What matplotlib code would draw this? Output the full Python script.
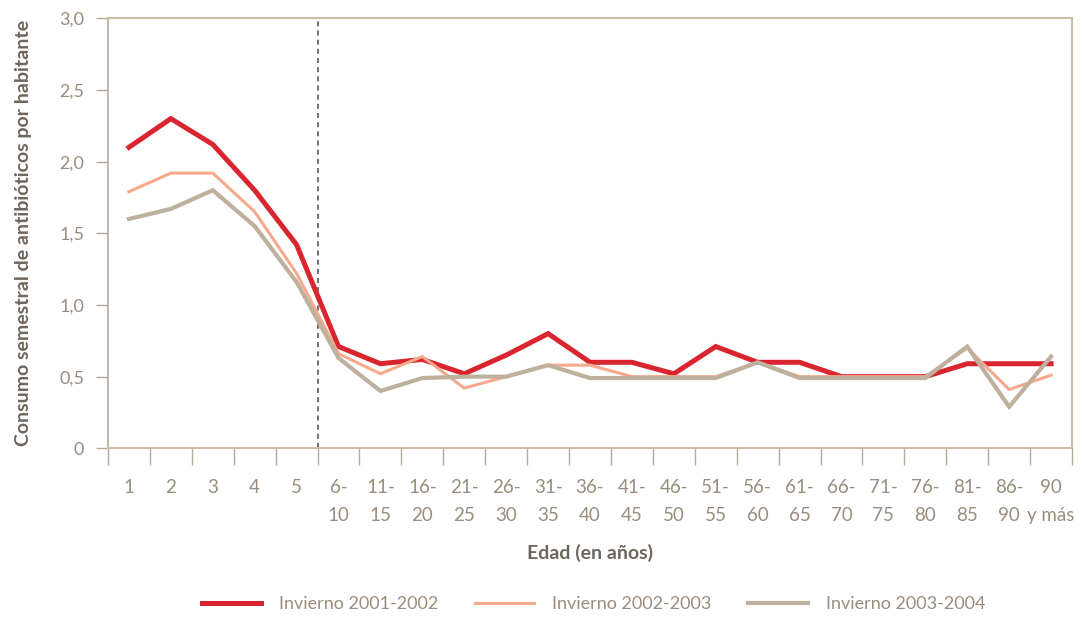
import numpy as np
import matplotlib
matplotlib.use("Agg")
import matplotlib.pyplot as plt

plt.rcParams['font.family'] = ['Lato', 'DejaVu Sans']

# age groups
edades = ["1", "2", "3", "4", "5", "6-\n10", "11-\n15", "16-\n20", "21-\n25", "26-\n30",
          "31-\n35", "36-\n40", "41-\n45", "46-\n50", "51-\n55", "56-\n60", "61-\n65",
          "66-\n70", "71-\n75", "76-\n80", "81-\n85", "86-\n90", "90\ny más"]

# consumo semestral por habitante
inv_2001 = [2.1, 2.3, 2.12, 1.8, 1.42, 0.71, 0.59, 0.62, 0.52, 0.65, 0.8, 0.6, 0.6,
            0.52, 0.71, 0.6, 0.6, 0.5, 0.5, 0.5, 0.59, 0.59, 0.59]
inv_2002 = [1.79, 1.92, 1.92, 1.65, 1.22, 0.66, 0.52, 0.64, 0.42, 0.5, 0.58, 0.58, 0.5,
            0.5, 0.5, 0.6, 0.5, 0.5, 0.5, 0.5, 0.7, 0.41, 0.51]
inv_2003 = [1.6, 1.67, 1.8, 1.55, 1.16, 0.63, 0.4, 0.49, 0.5, 0.5, 0.58, 0.49, 0.49,
            0.49, 0.49, 0.6, 0.49, 0.49, 0.49, 0.49, 0.71, 0.29, 0.64]

series = [("Invierno 2001-2002", inv_2001, "#d9252f", 3.6),
          ("Invierno 2002-2003", inv_2002, "#f6a98c", 2.2),
          ("Invierno 2003-2004", inv_2003, "#bdb09c", 3.0)]

txt_col = "#9a8d7d"
axis_col = "#cbbda4"

fig = plt.figure(figsize=(10.82, 6.18), dpi=100)
ax = fig.add_axes([0.0998, 0.2746, 0.891, 0.6958])

x = np.arange(len(edades))
for name, vals, col, lw in series:
    ax.plot(x, vals, color=col, lw=lw, label=name, solid_joinstyle="miter")

ax.axvline(4.5, color="#5a5550", lw=1.2, ls=(0, (3, 2.5)), zorder=1)

ax.set_xlim(-0.5, len(edades) - 0.5)
ax.set_ylim(0, 3.0)

ax.set_yticks(np.arange(0, 3.01, 0.5))
ax.set_yticklabels(["0", "0,5", "1,0", "1,5", "2,0", "2,5", "3,0"])
ax.tick_params(axis="y", direction="out", length=9, width=1, color="#b5a999",
               labelcolor=txt_col, labelsize=13, pad=8)

ax.set_xticks(x)
ax.set_xticklabels(edades, linespacing=1.8)
ax.set_xticks(np.arange(-0.5, len(edades)), minor=True)
ax.tick_params(axis="x", which="major", length=0, labelcolor=txt_col, labelsize=13.5, pad=22)
ax.tick_params(axis="x", which="minor", direction="out", length=12, width=1, color="#b5a999")

for side in ["top", "right", "bottom"]:
    ax.spines[side].set_color(axis_col)
    ax.spines[side].set_linestyle((0, (1, 1)))
    ax.spines[side].set_linewidth(1.5)
ax.spines["left"].set_color("#b9ab95")
ax.spines["left"].set_linewidth(1.2)

ax.set_xlabel("Edad (en años)", color="#6e655c", fontsize=14, fontweight="bold", labelpad=14)
ax.set_ylabel("Consumo semestral de antibióticos por habitante", color="#6e655c",
              fontsize=14, fontweight="bold", labelpad=20)

fig.legend(loc="center", bbox_to_anchor=(0.5485, 1 - 604 / 618), ncol=3, frameon=False,
           fontsize=13, labelcolor=txt_col, handlelength=3.3, handletextpad=1.0,
           columnspacing=2.0)

fig.savefig("out.png", dpi=100)
